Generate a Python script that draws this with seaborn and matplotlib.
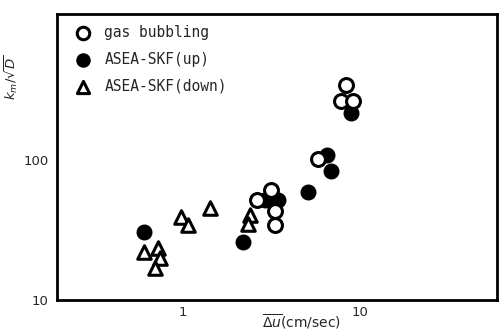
import pandas as pd
import matplotlib.pyplot as plt
import seaborn as sns

# gas bubbling (open circles)
gas_u = [2.60, 3.15, 3.32, 3.32, 5.74, 8.27, 7.74, 9.05]
gas_k = [51.8, 61.1, 43.3, 34.3, 101.6, 343, 264, 264]

# ASEA-SKF up (filled circles)
up_u = [0.60, 2.19, 2.92, 3.45, 5.10, 6.53, 6.88, 8.81]
up_k = [30.6, 26.0, 51.8, 51.8, 59.1, 108, 83.4, 216]

# ASEA-SKF down (open triangles)
down_u = [0.60, 0.72, 0.74, 0.70, 0.98, 1.07, 1.43, 2.40, 2.34]
down_k = [22.0, 23.5, 20.0, 16.9, 39.2, 34.3, 45.4, 40.5, 34.9]

df_gas = pd.DataFrame({"u": gas_u, "k": gas_k})
df_up = pd.DataFrame({"u": up_u, "k": up_k})
df_down = pd.DataFrame({"u": down_u, "k": down_k})

sns.set_style("white")
plt.rcParams["font.family"] = ["DejaVu Sans"]

fig = plt.figure(figsize=(5, 3.33), dpi=100)
ax = fig.add_axes([0.114, 0.099, 0.88, 0.859])

# 三組資料
sns.scatterplot(data=df_down, x="u", y="k", marker="^", s=95,
                facecolor="white", edgecolor="black", linewidth=2.2,
                ax=ax, label="ASEA-SKF(down)", zorder=3)
sns.scatterplot(data=df_up, x="u", y="k", marker="o", s=110,
                color="black", edgecolor="black", linewidth=1,
                ax=ax, label="ASEA-SKF(up)", zorder=4)
sns.scatterplot(data=df_gas, x="u", y="k", marker="o", s=100,
                facecolor="white", edgecolor="black", linewidth=2.2,
                ax=ax, label="gas bubbling", zorder=5)

ax.set_xscale("log")
ax.set_yscale("log")
ax.set_xlim(0.195, 59)
ax.set_ylim(10, 1100)
ax.set_xticks([1, 10])
ax.set_xticklabels(["1", "10"])
ax.set_yticks([10, 100])
ax.set_yticklabels(["10", "100"])
ax.minorticks_off()
ax.tick_params(direction="in", length=5, width=2, labelsize=9.5, pad=6)
ax.tick_params(axis="x", pad=4)

for sp in ax.spines.values():
    sp.set_linewidth(2)
    sp.set_color("black")

ax.set_xlabel(r"$\overline{\Delta u}$(cm/sec)", fontsize=10)
ax.xaxis.set_label_coords(0.555, -0.045)
ax.set_ylabel(r"$k_m/\sqrt{D}$", fontsize=9.5)
ax.yaxis.set_label_coords(-0.085, 0.78)

# 圖例順序
h, l = ax.get_legend_handles_labels()
order = [2, 1, 0]
ax.legend([h[i] for i in order], [l[i] for i in order], loc="upper left",
          frameon=False, prop={"family": "DejaVu Sans Mono", "size": 10.5},
          handletextpad=0.5, labelspacing=0.82, borderaxespad=0.35,
          markerscale=0.9)

fig.savefig("out.png", dpi=100)
